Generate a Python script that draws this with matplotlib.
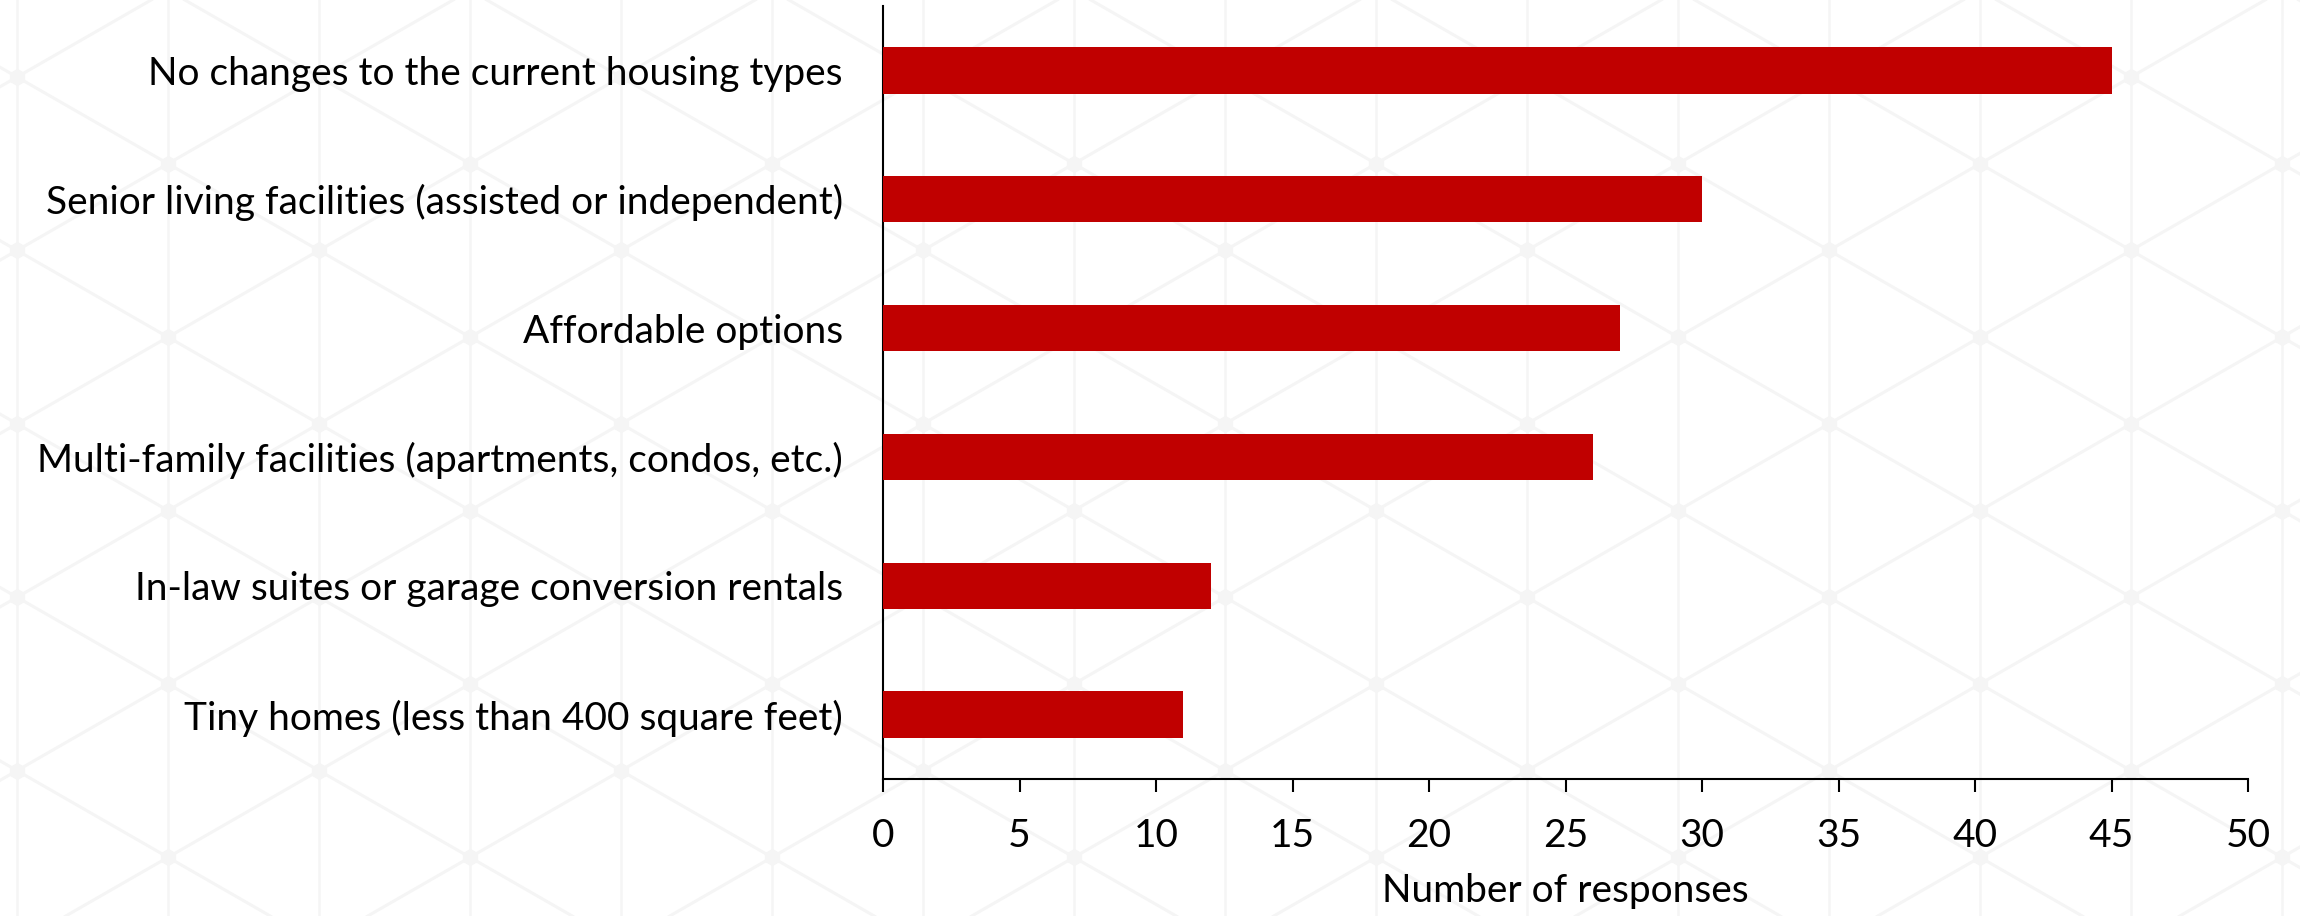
"""
plot.py - housing type preference bar chart
"""

import matplotlib
matplotlib.use("Agg")

import matplotlib.pyplot as plt
import numpy as np

categories = [
    "No changes to the current housing types",
    "Senior living facilities (assisted or independent)",
    "Affordable options",
    "Multi-family facilities (apartments, condos, etc.)",
    "In-law suites or garage conversion rentals",
    "Tiny homes (less than 400 square feet)",
]
responses = [45, 30, 27, 26, 12, 11]
x_ticks = [0, 5, 10, 15, 20, 25, 30, 35, 40, 45, 50]

plt.rcParams["font.family"] = ["Lato", "DejaVu Sans"]

W, H = 2300, 916
fig = plt.figure(figsize=(W / 100, H / 100), dpi=100)
fig.patch.set_facecolor("white")

# ── faint cube/hex lattice in the background ─────────────────
bg = fig.add_axes([0, 0, 1, 1], zorder=-10)
bg.set_xlim(0, W)
bg.set_ylim(H, 0)
bg.axis("off")
pat = "#f5f5f5"
x0, y0, dx, dy = 17, 77, 151, 86.7
slope = dy / dx
xs = np.array([-50, W + 50])
for m in range(-20, 21):
    off = 2 * dy * m
    bg.plot(xs, y0 + slope * (xs - x0) + off, color=pat, lw=2.2, solid_capstyle="butt")
    bg.plot(xs, y0 - slope * (xs - x0) + off, color=pat, lw=2.2, solid_capstyle="butt")
for k in range(-1, 17):
    bg.axvline(x0 + dx * k, color=pat, lw=1.8)
nodes = [(x0 + dx * k, y0 + dy * j) for k in range(-1, 17) for j in range(-1, 11) if (k + j) % 2 == 0]
bg.scatter([n[0] for n in nodes], [n[1] for n in nodes], marker="h", s=160, color=pat, lw=0)

# ── main chart ───────────────────────────────────────────────
ax = fig.add_axes([883 / W, 1 - 779 / H, (2248 - 883) / W, (779 - 6) / H])
ax.patch.set_alpha(0)

y = np.arange(len(categories))
ax.barh(y, responses, height=0.36, color="#C00000", zorder=3)

ax.set_xlim(0, 50)
ax.set_ylim(len(categories) - 0.5, -0.5)
ax.set_xticks(x_ticks)
ax.set_yticks(y)
ax.set_yticklabels(categories)

for side in ("top", "right"):
    ax.spines[side].set_visible(False)
for side in ("left", "bottom"):
    ax.spines[side].set_linewidth(1.5)
    ax.spines[side].set_color("black")

ax.tick_params(axis="x", length=9, width=1.5, direction="out", pad=19, labelsize=28)
ax.tick_params(axis="y", length=0, pad=29, labelsize=28)
ax.set_xlabel("Number of responses", fontsize=28, labelpad=14)

plt.savefig("out.png", dpi=100, facecolor=fig.get_facecolor())
plt.close(fig)
